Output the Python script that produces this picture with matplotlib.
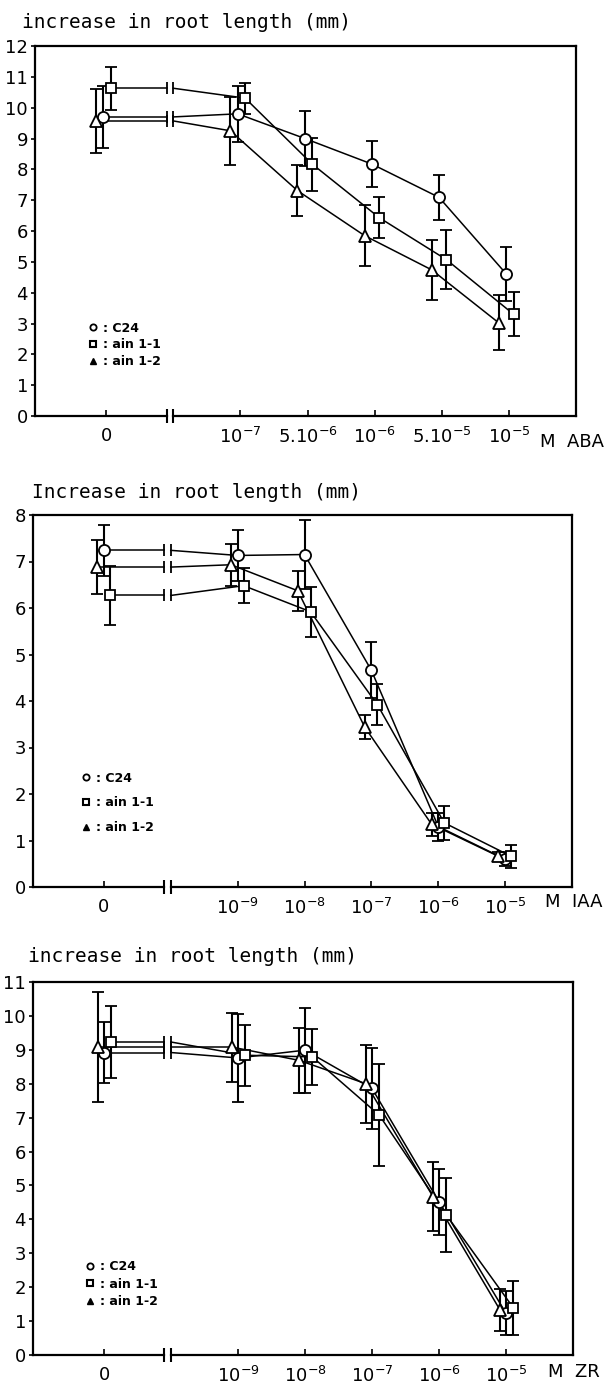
import matplotlib
matplotlib.use('Agg')
import matplotlib.pyplot as plt
from matplotlib.lines import Line2D

# ---------------- data ----------------
series_names = ['C24', 'ain 1-1', 'ain 1-2']

aba_labels = ['0', '$10^{-7}$', '$5.10^{-6}$', '$10^{-6}$', '$5.10^{-5}$', '$10^{-5}$']
aba_c24 = [9.70, 9.80, 9.00, 8.17, 7.09, 4.61]
aba_c24_err = [1.00, 0.90, 0.90, 0.75, 0.73, 0.87]
aba_ain11 = [10.63, 10.31, 8.17, 6.43, 5.07, 3.30]
aba_ain11_err = [0.70, 0.50, 0.86, 0.66, 0.95, 0.72]
aba_ain12 = [9.57, 9.25, 7.31, 5.85, 4.74, 3.02]
aba_ain12_err = [1.05, 1.10, 0.83, 0.98, 0.98, 0.89]

iaa_labels = ['0', '$10^{-9}$', '$10^{-8}$', '$10^{-7}$', '$10^{-6}$', '$10^{-5}$']
iaa_c24 = [7.24, 7.13, 7.15, 4.66, 1.30, 0.60]
iaa_c24_err = [0.55, 0.55, 0.74, 0.60, 0.30, 0.15]
iaa_ain11 = [6.27, 6.48, 5.92, 3.92, 1.38, 0.66]
iaa_ain11_err = [0.64, 0.38, 0.54, 0.44, 0.36, 0.25]
iaa_ain12 = [6.88, 6.93, 6.37, 3.44, 1.35, 0.66]
iaa_ain12_err = [0.58, 0.45, 0.43, 0.25, 0.25, 0.10]

zr_labels = ['0', '$10^{-9}$', '$10^{-8}$', '$10^{-7}$', '$10^{-6}$', '$10^{-5}$']
zr_c24 = [8.92, 8.76, 8.99, 7.86, 4.52, 1.23]
zr_c24_err = [0.90, 1.30, 1.25, 1.20, 0.98, 0.65]
zr_ain11 = [9.23, 8.84, 8.79, 7.07, 4.13, 1.39]
zr_ain11_err = [1.07, 0.90, 0.83, 1.50, 1.10, 0.80]
zr_ain12 = [9.08, 9.08, 8.69, 8.00, 4.67, 1.33]
zr_ain12_err = [1.63, 1.02, 0.95, 1.15, 1.02, 0.62]

# ---------------- layout ----------------
W, H = 611, 1384
fig = plt.figure(figsize=(W / 100, H / 100), dpi=100)
plt.rcParams['font.family'] = ['DejaVu Sans']

XB = 0.95      # axis break position
D = 0.05       # half gap of break
XLIM = (-1.06, 7.0)


def fr(left, top, right, bottom):
    return [left / W, 1 - bottom / H, (right - left) / W, (bottom - top) / H]


def draw_series(ax, xs, ys, errs, marker, ms, off):
    x = [p + off for p in xs]
    ax.plot([x[0], XB - D], [ys[0], ys[0]], color='black', lw=1.1, zorder=2)
    ax.plot([XB + D, x[1]], [ys[0], ys[1]], color='black', lw=1.1, zorder=2)
    ax.plot(x[1:], ys[1:], color='black', lw=1.1, zorder=2)
    ax.plot([XB - D, XB + D], [ys[0], ys[0]], ls='none', marker='|', ms=8,
            mew=1.3, color='black', zorder=2)
    ax.errorbar(x, ys, yerr=errs, fmt=marker, ms=ms, mfc='white', mec='black',
                mew=1.3, ecolor='black', elinewidth=1.5, capsize=4,
                capthick=1.5, zorder=3)


def panel(rect, labels, data, ymax, offs, title, title_xy, unit, unit_xy,
          leg_anchor, leg_spacing):
    ax = fig.add_axes(rect)
    xs = [0] + [i + 1 for i in range(1, len(labels))]
    markers = [('o', 8), ('s', 7.5), ('^', 8)]
    for (ys, errs), (m, ms), off in zip(data, markers, offs):
        draw_series(ax, xs, ys, errs, m, ms, off)
    ax.set_xlim(*XLIM)
    ax.set_ylim(0, ymax)
    ax.set_yticks(range(0, ymax + 1))
    ax.set_xticks(xs)
    ax.set_xticklabels(labels)
    for s in ['top', 'left', 'right']:
        ax.spines[s].set_linewidth(1.6)
    ax.spines['bottom'].set_visible(False)
    ax.plot([XLIM[0], XB - D], [0, 0], color='black', lw=1.6, clip_on=False, zorder=5)
    ax.plot([XB + D, XLIM[1]], [0, 0], color='black', lw=1.6, clip_on=False, zorder=5)
    ax.plot([XB - D, XB + D], [0, 0], ls='none', marker='|', ms=10, mew=1.5,
            color='black', clip_on=False, zorder=5)
    ax.tick_params(axis='x', direction='in', length=4, width=1.2, pad=8,
                   labelsize=13)
    ax.tick_params(axis='y', direction='out', length=3, width=1.2, pad=2,
                   labelsize=13)
    fig.text(title_xy[0] / W, 1 - title_xy[1] / H, title, fontsize=14,
             family='DejaVu Sans Mono', ha='left', va='center')
    fig.text(unit_xy[0] / W, 1 - unit_xy[1] / H, unit, fontsize=13,
             ha='left', va='center')
    handles = [
        Line2D([], [], ls='none', marker='o', ms=4.5, mfc='white', mec='black', mew=1.3),
        Line2D([], [], ls='none', marker='s', ms=4.5, mfc='white', mec='black', mew=1.5),
        Line2D([], [], ls='none', marker='^', ms=4.5, mfc='black', mec='black'),
    ]
    ax.legend(handles, [': ' + n for n in series_names], loc='center left',
              bbox_to_anchor=leg_anchor, frameon=False, handlelength=1.0,
              handletextpad=0.3, borderaxespad=0, borderpad=0,
              labelspacing=leg_spacing, prop={'size': 9, 'weight': 'bold'})
    return ax


panel(fr(35, 46, 576, 416), aba_labels,
      [(aba_c24, aba_c24_err), (aba_ain11, aba_ain11_err), (aba_ain12, aba_ain12_err)],
      12, (-0.04, 0.07, -0.15),
      'increase in root length (mm)', (22, 22), 'M  ABA', (540, 442),
      (0.096, 0.192), 0.3)

panel(fr(33, 515, 572, 887), iaa_labels,
      [(iaa_c24, iaa_c24_err), (iaa_ain11, iaa_ain11_err), (iaa_ain12, iaa_ain12_err)],
      8, (0.0, 0.09, -0.10),
      'Increase in root length (mm)', (32, 493), 'M  IAA', (545, 902),
      (0.087, 0.226), 0.95)

panel(fr(33, 982, 573, 1355), zr_labels,
      [(zr_c24, zr_c24_err), (zr_ain11, zr_ain11_err), (zr_ain12, zr_ain12_err)],
      11, (0.0, 0.11, -0.09),
      'increase in root length (mm)', (28, 957), 'M  ZR', (548, 1372),
      (0.094, 0.19), 0.35)

fig.savefig('out.png', dpi=100)
